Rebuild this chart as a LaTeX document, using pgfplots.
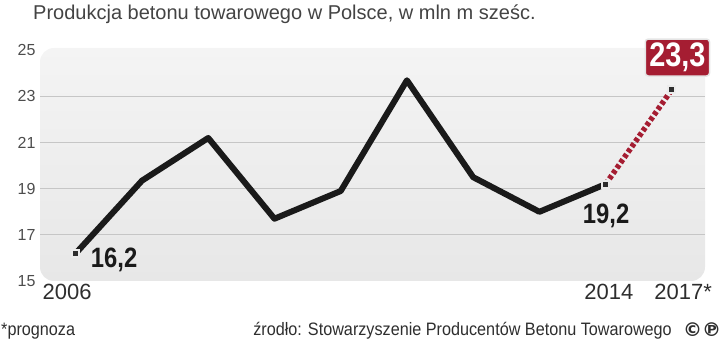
\documentclass[border=0pt]{standalone}
\usepackage{pgfplots}
\pgfplotsset{compat=1.18}
\usepackage{fontspec}
\setmainfont{Liberation Sans}[FakeStretch=0.85]
\newfontfamily\widefont{Liberation Sans}
\newfontfamily\footfont{Liberation Sans}[FakeStretch=0.9]
\newfontfamily\symfont{DejaVu Sans}
\definecolor{bgtop}{HTML}{F4F4F4}
\definecolor{bgbot}{HTML}{E7E7E7}
\definecolor{gridc}{HTML}{C6C6C6}
\definecolor{fcred}{HTML}{A51D32}
\definecolor{txt}{HTML}{2E2E2E}
\definecolor{linec}{HTML}{1A1A1A}
\begin{document}
\begin{tikzpicture}[x=1pt,y=1pt]
\path[use as bounding box] (0,0) rectangle (720,342);
\begin{axis}[at={(40pt,61pt)}, anchor=south west, scale only axis,
  width=665pt, height=233pt,
  xmin=-0.54, xmax=9.5, ymin=15, ymax=25.1,
  clip=false,
  axis line style={draw=none}, tick style={draw=none},
  axis background/.style={top color=bgtop, bottom color=bgbot, rounded corners=14pt},
  ytick={15,25}, extra y ticks={17,19,21,23},
  extra y tick style={grid=major, grid style={draw=gridc, line width=1pt}},
  /pgf/number format/assume math mode=true,
  yticklabel style={font=\widefont\fontsize{16}{16}\selectfont, text=txt!85!white, xshift=-1pt},
  xtick={-0.13,8.05,9.17}, xticklabels={2006,2014,2017*},
  xticklabel style={font=\widefont\fontsize{22}{22}\selectfont, text=txt, yshift=0pt},
]
\addplot[linec, line width=6pt, line join=round] coordinates {
 (0,16.2) (1,19.35) (2,21.2) (3,17.7) (4,18.9) (5,23.7) (6,19.5) (7,18.0) (8,19.2)};
\addplot[fcred, line width=5.5pt, dash pattern=on 4pt off 2.5pt] coordinates {(8,19.2) (9,23.3)};
\addplot[only marks, mark=square*, mark size=3.5pt, mark options={fill=txt, draw=white!85!gray, line width=1.8pt}]
  coordinates {(0,16.2) (8,19.2) (9,23.3)};
\node[anchor=west, font=\bfseries\fontsize{28}{28}\selectfont, text=linec, inner sep=0pt] at (axis cs:0,16.2) [xshift=15pt, yshift=-7pt] {16,2};
\node[anchor=north, font=\bfseries\fontsize{28}{28}\selectfont, text=linec, inner sep=0pt] at (axis cs:8,19.2) [xshift=0.5pt, yshift=-20pt] {19,2};
\node[fill=fcred, draw=white!80!gray, line width=1.5pt, rounded corners=3pt, text=white,
  font=\bfseries\fontsize{34}{34}\selectfont, inner xsep=4pt, inner ysep=4pt] at (axis cs:9,23.3) [xshift=5.5pt, yshift=32pt] {23,3};
\end{axis}
\node[anchor=west, font=\widefont\fontsize{20}{20}\selectfont, text=txt!90!white, inner sep=0pt] at (33,328) {Produkcja betonu towarowego w Polsce, w mln m sześc.};
\node[anchor=west, font=\footfont\fontsize{18}{18}\selectfont, text=txt, inner sep=0pt] at (1,11) {*prognoza};
\node[anchor=east, font=\footfont\fontsize{18}{18}\selectfont, text=txt, inner sep=0pt] at (672,11) {źrodło: Stowarzyszenie Producentów Betonu Towarowego};
\node[anchor=west, font=\symfont\bfseries\fontsize{19}{19}\selectfont, text=txt, inner sep=0pt] at (683,12) {©℗};
\end{tikzpicture}
\end{document}
